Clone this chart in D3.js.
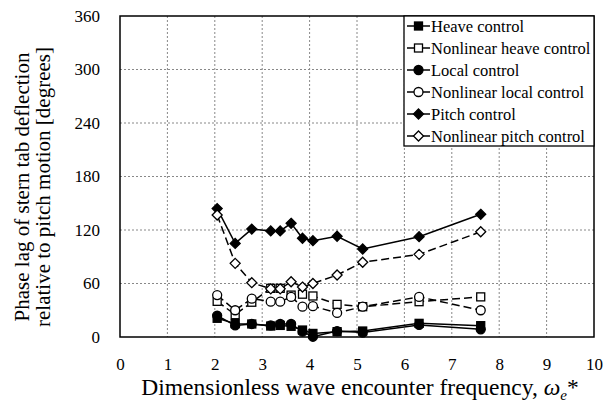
<!DOCTYPE html>
<html><head><meta charset="utf-8">
<script src="https://cdn.jsdelivr.net/npm/d3@7"></script>
<style>body{margin:0;background:#fff}svg{display:block}text{font-family:"Liberation Serif","Times New Roman",serif;fill:#000}</style>
</head><body><svg id="c" width="606" height="403"></svg>
<script>
const freq = [2.05, 2.43, 2.78, 3.18, 3.38, 3.61, 3.85, 4.07, 4.58, 5.12, 6.31, 7.61];
const heaveControl = [21, 15, 14.6, 12.3, 13, 12, 7.8, 4, 6, 6.7, 15.3, 12.7];
const nonlinearHeave = [40, 25, 39, 54.6, 54.6, 47, 48, 46, 36.6, 34, 39.6, 45];
const localControl = [24, 13, 14.6, 13, 14.6, 14.6, 6, 0.3, 6.7, 5, 13.5, 8.6];
const nonlinearLocal = [47, 30, 43, 39.6, 39.6, 45, 34, 34.6, 27, 34, 45, 30];
const pitchControl = [144, 105, 121, 119, 119, 127.5, 110.7, 108, 113, 98.7, 112.5, 137.6];
const nonlinearPitch = [136.8, 82.6, 60.9, 54, 54, 62, 56, 60, 69.5, 83.8, 92.7, 118];
const seriesNames = ["Heave control","Nonlinear heave control","Local control","Nonlinear local control","Pitch control","Nonlinear pitch control"];
const xTicks = [0,1,2,3,4,5,6,7,8,9,10];
const yTicks = [0,60,120,180,240,300,360];

const series = [
  {name: seriesNames[0], vals: heaveControl, sym: "square", fill: true, dash: null},
  {name: seriesNames[1], vals: nonlinearHeave, sym: "square", fill: false, dash: "8,4"},
  {name: seriesNames[2], vals: localControl, sym: "circle", fill: true, dash: null},
  {name: seriesNames[3], vals: nonlinearLocal, sym: "circle", fill: false, dash: "8,4"},
  {name: seriesNames[4], vals: pitchControl, sym: "diamond", fill: true, dash: null},
  {name: seriesNames[5], vals: nonlinearPitch, sym: "diamond", fill: false, dash: "8,4"}
];

const svg = d3.select("#c");
const L = 120, R = 594, T = 16, B = 337;
const x = d3.scaleLinear().domain([0,10]).range([L,R]);
const y = d3.scaleLinear().domain([0,360]).range([B,T]);

// grid
const g = svg.append("g");
g.selectAll("line.vx").data(xTicks.slice(1,-1)).enter().append("line")
  .attr("x1", d=>x(d)).attr("x2", d=>x(d)).attr("y1", T).attr("y2", B)
  .attr("stroke", "#888").attr("stroke-width", 1).attr("stroke-dasharray", "2,2");
g.selectAll("line.hy").data(yTicks.slice(1,-1)).enter().append("line")
  .attr("y1", d=>y(d)).attr("y2", d=>y(d)).attr("x1", L).attr("x2", R)
  .attr("stroke", "#888").attr("stroke-width", 1).attr("stroke-dasharray", "2,2");

// axes labels
const xAxis = d3.axisBottom(x).tickValues(xTicks).tickSize(0).tickPadding(21).tickFormat(d3.format("d"));
const yAxis = d3.axisLeft(y).tickValues(yTicks).tickSize(0).tickPadding(20).tickFormat(d3.format("d"));
const gx = svg.append("g").attr("transform", `translate(0,${B})`).call(xAxis);
const gy = svg.append("g").attr("transform", `translate(${L},0)`).call(yAxis);
[gx, gy].forEach(a => { a.select(".domain").remove(); a.selectAll("text").style("font-size","17px").style("font-family",'"Liberation Serif",serif'); });

// lines and markers
const line = d3.line().x((d,i)=>x(freq[i])).y(d=>y(d));
const plot = svg.append("g");
function marker(sel, sym, fill) {
  if (sym === "square") {
    sel.append("rect").attr("x", -4).attr("y", -4).attr("width", 8).attr("height", 8)
      .attr("fill", fill ? "#000" : "#fff").attr("stroke", "#000").attr("stroke-width", 1.3);
  } else if (sym === "circle") {
    sel.append("circle").attr("r", 4.5)
      .attr("fill", fill ? "#000" : "#fff").attr("stroke", "#000").attr("stroke-width", 1.3);
  } else {
    sel.append("path").attr("d", "M0,-5L5,0L0,5L-5,0Z")
      .attr("fill", fill ? "#000" : "#fff").attr("stroke", "#000").attr("stroke-width", 1.3);
  }
}
series.forEach(s => {
  plot.append("path").attr("d", line(s.vals)).attr("fill", "none").attr("stroke", "#000")
    .attr("stroke-width", 1.5).attr("stroke-dasharray", s.dash);
});
series.forEach(s => {
  s.vals.forEach((v,i) => {
    const m = plot.append("g").attr("transform", `translate(${x(freq[i])},${y(v)})`);
    marker(m, s.sym, s.fill);
  });
});

// frame
svg.append("rect").attr("x", L).attr("y", T).attr("width", R-L).attr("height", B-T)
  .attr("fill", "none").attr("stroke", "#000").attr("stroke-width", 1.5);

// legend
const lg = svg.append("g");
lg.append("rect").attr("x", 404).attr("y", T).attr("width", R-404).attr("height", 130)
  .attr("fill", "#fff").attr("stroke", "#000").attr("stroke-width", 1.3);
series.forEach((s,i) => {
  const cy = 26 + i*22;
  lg.append("line").attr("x1", 407).attr("x2", 430).attr("y1", cy).attr("y2", cy)
    .attr("stroke", "#000").attr("stroke-width", 1.5);
  const m = lg.append("g").attr("transform", `translate(418.5,${cy})`);
  marker(m, s.sym, s.fill);
  lg.append("text").attr("x", 431).attr("y", cy).attr("dy", "0.35em")
    .style("font-size", "16.5px").text(s.name);
});

// axis titles
svg.append("text").attr("transform", "translate(22,187) rotate(-90)")
  .attr("text-anchor", "middle").attr("dy", "0.35em").style("font-size", "21px")
  .text("Phase lag of stern tab deflection");
svg.append("text").attr("transform", "translate(43,187) rotate(-90)")
  .attr("text-anchor", "middle").attr("dy", "0.35em").style("font-size", "21px")
  .text("relative to pitch motion [degrees]");
const xt = svg.append("text").attr("x", 360).attr("y", 395).attr("text-anchor", "middle").style("font-size", "23.5px");
xt.append("tspan").text("Dimensionless wave encounter frequency, ");
xt.append("tspan").style("font-style", "italic").text("ω");
xt.append("tspan").style("font-style", "italic").style("font-size", "15px").attr("dy", 5).text("e");
xt.append("tspan").attr("dy", -5).text("*");
</script></body></html>
